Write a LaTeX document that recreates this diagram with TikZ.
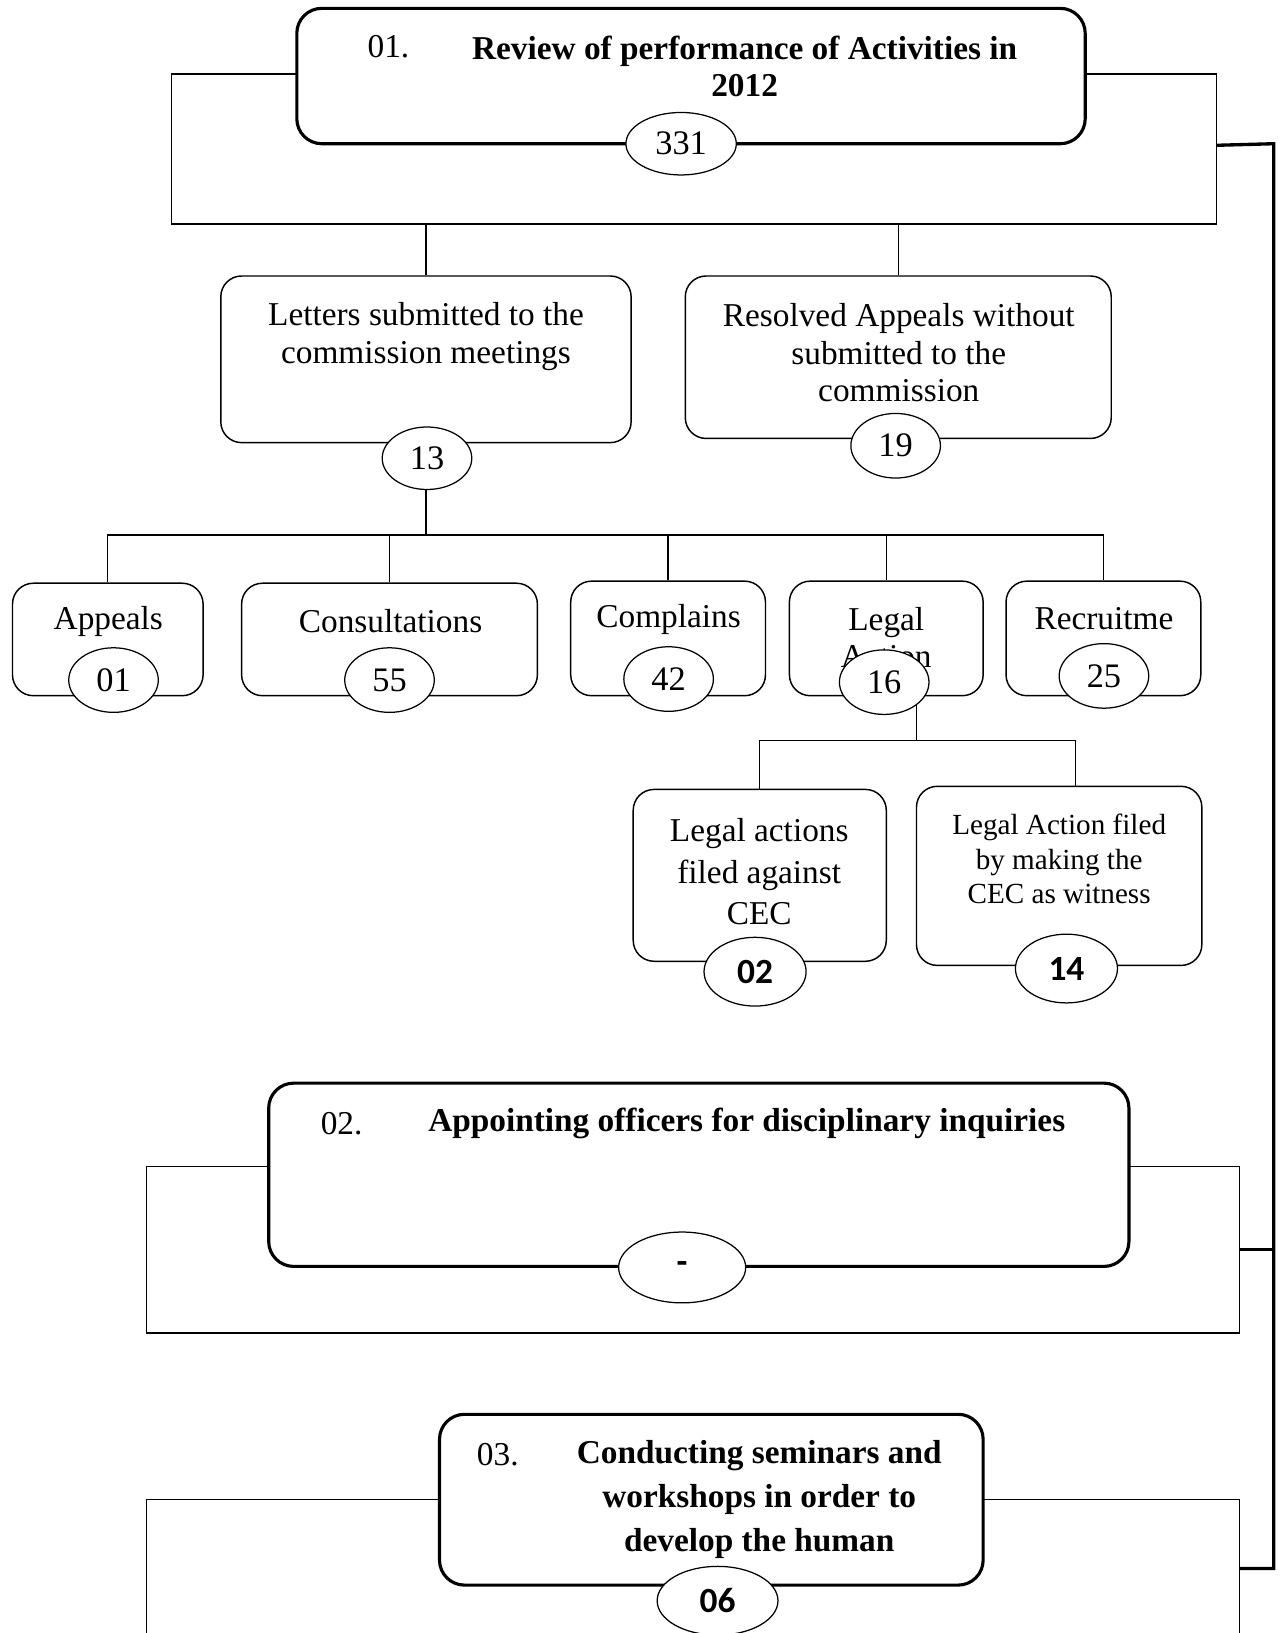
\documentclass[tikz,border=0pt]{standalone}
\usepackage{fontspec}
\setmainfont{Liberation Serif}
\newfontfamily\numfont{Carlito}
\usepackage{tikz}
\usetikzlibrary{shapes.geometric, positioning}

\begin{document}
\begin{tikzpicture}[x=0.5pt, y=-0.5pt,
    headbox/.style={rectangle, rounded corners=12pt, draw, line width=1.5pt, fill=white},
    card/.style={rectangle, rounded corners=10pt, draw, line width=0.7pt, fill=white},
    frame/.style={rectangle, draw, line width=0.6pt},
    count/.style={ellipse, draw, line width=0.6pt, fill=white, inner sep=0pt, minimum width=43pt, minimum height=31pt, font=\fontsize{16.5}{18}\selectfont},
    bigcount/.style={count, minimum width=49pt, minimum height=33pt, font=\numfont\bfseries\fontsize{17}{20}\selectfont},
    cardtext/.style={align=center, inner sep=0pt, font=\fontsize{16}{18}\selectfont},
    headtext/.style={align=center, inner sep=0pt, font=\bfseries\fontsize{16}{18}\selectfont},
    headno/.style={inner sep=0pt, font=\fontsize{16}{18}\selectfont},
    link/.style={line width=0.6pt},
    rail/.style={line width=1.6pt}]

    \useasboundingbox (0,0) rectangle (1234,1568);

    \node (frame1) [frame, minimum width=501.5pt, minimum height=72pt] at (666.5,143) {};
    \node (frame2) [frame, minimum width=524.5pt, minimum height=80pt] at (665.5,1200) {};
    \coordinate (frame3nw) at (141,1440);
    \coordinate (frame3ne) at (1190,1440);
    \draw[link] (frame3nw |- 0,1568) -- (frame3nw) -- (frame3ne) -- (frame3ne |- 0,1568);

    \node (head1) [headbox, minimum width=378.5pt, minimum height=65pt] at (663.5,73) {};
    \node (head1no) [headno] at (373,45) {01.};
    \node (head1text) [headtext] at (715,64) {Review of performance of Activities in\\2012};

    \node (letters) [card, minimum width=197pt, minimum height=80pt] at (409,345) {};
    \node (letterstext) [cardtext] at (409,323) {Letters submitted to the\\commission meetings};
    \node (resolved) [card, minimum width=204.5pt, minimum height=78pt] at (862.5,343) {};
    \node (resolvedtext) [cardtext] at (863,339) {Resolved Appeals without\\submitted to the\\commission};

    \node (appeals) [card, minimum width=91.5pt, minimum height=54pt] at (103.5,614) {};
    \node (appealstext) [cardtext] at (104,597) {Appeals};
    \node (consult) [card, minimum width=142pt, minimum height=54pt] at (374,614) {};
    \node (consulttext) [cardtext] at (375,596) {Consultations};
    \node (complains) [card, minimum width=93.5pt, minimum height=55pt] at (641.5,613) {};
    \node (complainstext) [cardtext] at (642,595) {Complains};
    \node (legal) [card, minimum width=93pt, minimum height=55pt] at (851,613) {};
    \node (legaltext) [cardtext] at (851,612) {Legal\\Action};
    \node (recruit) [card, minimum width=93.5pt, minimum height=55pt] at (1059.5,613) {};
    \node (recruittext) [cardtext] at (1060,594) {Recruitme};

    \node (against) [card, minimum width=121.5pt, minimum height=82.5pt] at (729.5,840.5) {};
    \node (againsttext) [cardtext, font=\fontsize{16}{20}\selectfont] at (729,837) {Legal actions\\filed against\\CEC};
    \node (witness) [card, minimum width=137pt, minimum height=86pt] at (1017,841) {};
    \node (witnesstext) [cardtext, font=\fontsize{14}{16.5}\selectfont] at (1017,825) {Legal Action filed\\by making the\\CEC as witness};

    \node (head2) [headbox, minimum width=413pt, minimum height=88pt] at (671,1128) {};
    \node (head2no) [headno] at (328,1079) {02.};
    \node (head2text) [headtext] at (717,1079) {Appointing officers for disciplinary inquiries};

    \node (head3) [headbox, minimum width=261pt, minimum height=82pt] at (683,1440) {};
    \node (head3no) [headno] at (478,1397) {03.};
    \node (head3text) [headtext, font=\bfseries\fontsize{16}{21}\selectfont] at (729,1440) {Conducting seminars and\\workshops in order to\\develop the human};

    \draw[link] (letters.north) -- (letters.north |- frame1.south);
    \draw[link] (resolved.north) -- (resolved.north |- frame1.south);
    \draw[link] (letters.south) ++(0,15) -- ++(0,73) coordinate (bus);
    \draw[link] (appeals.north) |- (recruit.north |- bus) -- (recruit.north);
    \foreach \n in {consult, complains, legal}
        \draw[link] (\n.north) -- (\n.north |- bus);
    \draw[link] ([xshift=14.5pt]legal.south) -- ++(0,42) coordinate (split);
    \draw[link] (against.north) |- (split) -| ([xshift=8pt]witness.north);

    \coordinate (railtop) at (1223,138);
    \coordinate (railfoot) at (1223,1506);
    \draw[rail] (head1.south -| frame1.east) -- (railtop) -- (railfoot) -- (railfoot -| frame3ne);
    \draw[rail] (frame2.east) -- (frame2.east -| railtop);

    \node (n331) [count, minimum width=53pt, minimum height=30pt] at (654,138) {331};
    \node (n13) [count, minimum height=30pt] at (410,440) {13};
    \node (n19) [count] at (860,428) {19};
    \node (n01) [count] at (109,653) {01};
    \node (n55) [count] at (374,653) {55};
    \node (n42) [count] at (642,652) {42};
    \node (n16) [count] at (849,655) {16};
    \node (n25) [count] at (1060,649) {25};
    \node (n02) [bigcount] at (725,933) {02};
    \node (n14) [bigcount] at (1024,930) {14};
    \node (ndash) [bigcount, minimum width=61pt, minimum height=34pt] at (655,1217) {-};
    \node (n06) [bigcount, minimum width=58pt] at (689,1537) {06};
\end{tikzpicture}
\end{document}
